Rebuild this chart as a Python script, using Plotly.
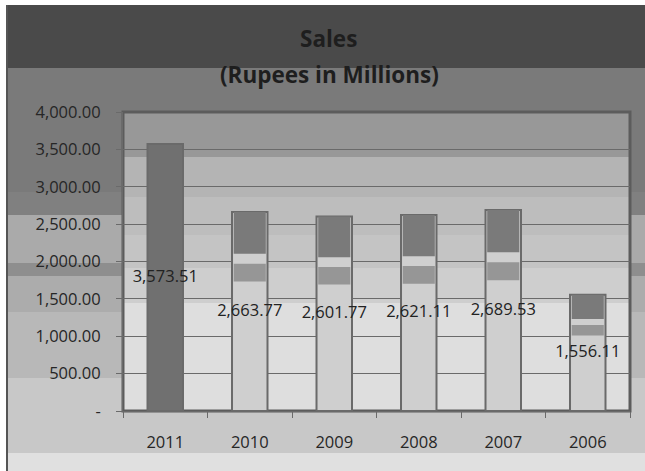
import plotly.graph_objects as go

years = ["2011", "2010", "2009", "2008", "2007", "2006"]
sales = [3573.51, 2663.77, 2601.77, 2621.11, 2689.53, 1556.11]
labels = ["3,573.51", "2,663.77", "2,601.77", "2,621.11", "2,689.53", "1,556.11"]
tick_vals = [0, 500, 1000, 1500, 2000, 2500, 3000, 3500, 4000]
tick_text = ["-", "500.00", "1,000.00", "1,500.00", "2,000.00",
             "2,500.00", "3,000.00", "3,500.00", "4,000.00"]

W, H = 645, 471
L, R, T, B = 123, 15, 112, 60
PW, PH = W - L - R, H - T - B


def px_x(x):
    return (x - L) / PW


def px_y(y):
    return (H - B - y) / PH


FONT = "Open Sans"

fig = go.Figure()

# light body of every bar, the first one is solid dark
body_col = ["#707070"] + ["#cfcfcf"] * 5
fig.add_trace(go.Bar(
    x=years, y=sales, width=0.42,
    marker=dict(color=body_col, line=dict(color="#6a6a6a", width=2)),
    hoverinfo="skip", showlegend=False,
))

# reflected bands on the glassy bars
rest = list(range(1, 6))
fig.add_trace(go.Bar(
    x=[years[i] for i in rest],
    y=[sales[i] * 0.09 for i in rest],
    base=[sales[i] * 0.65 for i in rest],
    width=0.38, marker=dict(color="#969696", line=dict(width=0)),
    hoverinfo="skip", showlegend=False,
))
fig.add_trace(go.Bar(
    x=[years[i] for i in rest],
    y=[sales[i] * 0.21 for i in rest],
    base=[sales[i] * 0.79 for i in rest],
    width=0.38, marker=dict(color="#7a7a7a", line=dict(width=0)),
    hoverinfo="skip", showlegend=False,
))

# data labels at bar centre
fig.add_trace(go.Scatter(
    x=years, y=[v / 2 for v in sales], text=labels, mode="text",
    textfont=dict(family=FONT, size=16.5, color="#222222"),
    hoverinfo="skip", showlegend=False,
))

shapes = []


def band(y0, y1, col, x0=7, x1=645):
    shapes.append(dict(type="rect", xref="paper", yref="paper",
                       x0=px_x(x0), x1=px_x(x1), y0=px_y(y1), y1=px_y(y0),
                       fillcolor=col, line=dict(width=0), layer="below"))


# outer background bands
band(5, 68, "#4a4a4a")
band(68, 192, "#7a7a7a")
band(192, 215, "#808080")
band(215, 263, "#aaaaaa")
band(263, 276, "#8e8e8e")
band(276, 312, "#acacac")
band(312, 378, "#b8b8b8")
band(378, 453, "#c8c8c8")
band(453, 471, "#e0e0e0")

# plot area bands
pl, pr = L, W - R
band(112, 157, "#989898", pl, pr)
band(157, 197, "#b4b4b4", pl, pr)
band(197, 235, "#bdbdbd", pl, pr)
band(235, 268, "#c4c4c4", pl, pr)
band(268, 303, "#cecece", pl, pr)
band(303, 411, "#dedede", pl, pr)

# frame around plot area
shapes.append(dict(type="rect", xref="paper", yref="paper", x0=0, x1=1, y0=0, y1=1,
                   line=dict(color="#5c5c5c", width=3), layer="below"))
# left border of chart
shapes.append(dict(type="line", xref="paper", yref="paper",
                   x0=px_x(7), x1=px_x(7), y0=px_y(471), y1=px_y(5),
                   line=dict(color="#555555", width=2), layer="below"))

fig.update_layout(
    width=W, height=H,
    margin=dict(l=L, r=R, t=T, b=B),
    paper_bgcolor="white", plot_bgcolor="rgba(0,0,0,0)",
    barmode="overlay", shapes=shapes,
    font=dict(family=FONT, color="#262626"),
    annotations=[
        dict(text="<b>Sales</b>", xref="paper", yref="paper",
             x=px_x(328), y=px_y(39), yanchor="middle", showarrow=False,
             font=dict(family=FONT, size=22.5, color="#1e1e1e")),
        dict(text="<b>(Rupees in Millions)</b>", xref="paper", yref="paper",
             x=px_x(329), y=px_y(74), yanchor="middle", showarrow=False,
             font=dict(family=FONT, size=22.5, color="#1e1e1e")),
    ],
)

fig.update_xaxes(
    type="category", showgrid=False, showline=True, linecolor="#6a6a6a",
    ticks="outside", tickson="boundaries", ticklen=6, tickcolor="#6a6a6a",
    tickfont=dict(family=FONT, size=16.5, color="#262626"),
    ticklabelstandoff=16,
)
fig.update_yaxes(
    range=[0, 4000], tickvals=tick_vals, ticktext=tick_text,
    showgrid=True, gridcolor="#6a6a6a", gridwidth=1, zeroline=False,
    showline=True, linecolor="#6a6a6a",
    ticks="outside", ticklen=6, tickcolor="#6a6a6a",
    tickfont=dict(family=FONT, size=16.5, color="#262626"),
    ticklabelstandoff=12,
)

fig.write_html("out.html", config={"displayModeBar": False},
               post_script="document.body.style.margin='0';")
